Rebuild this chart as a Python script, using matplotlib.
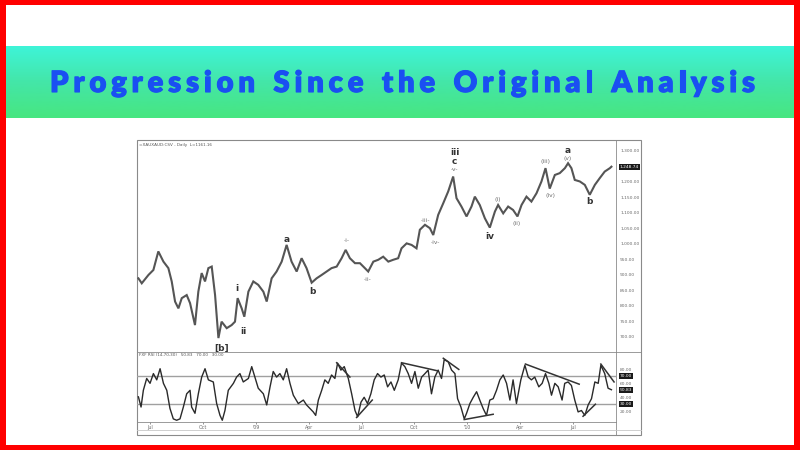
import matplotlib
matplotlib.use('Agg')
import matplotlib.pyplot as plt
import matplotlib.transforms as mtransforms
import matplotlib.patheffects as pe
from matplotlib.patches import Rectangle
from matplotlib.colors import LinearSegmentedColormap
from matplotlib.font_manager import FontProperties
import numpy as np

# price (XAU/AUD daily), time in months since Jul 2008
price_t = [-0.66, -0.47, -0.09, 0.19, 0.47, 0.76, 1.04, 1.23, 1.42, 1.61,
           1.80, 2.08, 2.27, 2.55, 2.74, 2.93, 3.12, 3.31, 3.50, 3.69,
           3.88, 4.06, 4.35, 4.63, 4.82, 4.97, 5.20, 5.35, 5.58, 5.86,
           6.14, 6.43, 6.62, 6.90, 7.18, 7.47, 7.75, 8.03, 8.32, 8.60,
           8.88, 9.17, 9.45, 9.74, 10.02, 10.30, 10.59, 10.87, 11.10, 11.34,
           11.63, 11.91, 12.19, 12.38, 12.67, 12.95, 13.23, 13.52, 13.80, 14.08,
           14.27, 14.56, 14.84, 15.12, 15.31, 15.60, 15.88, 16.07, 16.35, 16.64,
           16.92, 17.20, 17.39, 17.67, 17.96, 18.24, 18.43, 18.71, 19.00, 19.28,
           19.57, 19.75, 20.04, 20.32, 20.60, 20.85, 21.08, 21.36, 21.64, 21.93,
           22.21, 22.44, 22.68, 22.97, 23.25, 23.54, 23.72, 23.91, 24.10, 24.39,
           24.67, 24.95, 25.24, 25.52, 25.80, 26.09, 26.18]
price_v = [888, 872, 899, 915, 975, 942, 921, 878, 813, 791,
           824, 834, 808, 737, 845, 905, 878, 921, 926, 834,
           695, 748, 727, 737, 748, 824, 791, 764, 845, 878,
           867, 845, 813, 888, 910, 942, 996, 942, 910, 953,
           921, 874, 888, 899, 910, 921, 926, 953, 980, 953,
           937, 937, 921, 910, 942, 948, 958, 942, 948, 953,
           985, 1001, 996, 985, 1045, 1061, 1050, 1028, 1093, 1131,
           1169, 1217, 1147, 1120, 1088, 1120, 1152, 1125, 1082, 1052,
           1104, 1125, 1098, 1120, 1109, 1088, 1125, 1152, 1136, 1163,
           1201, 1244, 1178, 1222, 1228, 1244, 1260, 1244, 1206, 1201,
           1190, 1158, 1190, 1212, 1233, 1244, 1248.74]

rsi_t = [-0.66, -0.51, -0.38, -0.19, 0.00, 0.19, 0.38, 0.57, 0.76, 0.95,
         1.13, 1.32, 1.51, 1.70, 1.89, 2.08, 2.27, 2.36, 2.55, 2.74,
         2.93, 3.12, 3.31, 3.59, 3.78, 3.97, 4.10, 4.25, 4.44, 4.73,
         4.91, 5.10, 5.29, 5.58, 5.77, 5.95, 6.14, 6.43, 6.62, 6.81,
         6.99, 7.18, 7.37, 7.56, 7.75, 7.94, 8.13, 8.41, 8.70, 8.88,
         9.07, 9.26, 9.40, 9.55, 9.74, 9.92, 10.11, 10.30, 10.49, 10.64,
         10.83, 11.02, 11.25, 11.44, 11.63, 11.78, 11.97, 12.15, 12.34, 12.53,
         12.72, 12.91, 13.10, 13.29, 13.48, 13.67, 13.86, 14.08, 14.27, 14.46,
         14.65, 14.84, 15.03, 15.22, 15.41, 15.60, 15.78, 15.97, 16.16, 16.35,
         16.54, 16.69, 16.92, 17.11, 17.30, 17.45, 17.64, 17.83, 17.96, 18.15,
         18.34, 18.53, 18.71, 18.90, 19.09, 19.28, 19.47, 19.66, 19.85, 20.04,
         20.23, 20.42, 20.60, 20.79, 21.04, 21.27, 21.46, 21.64, 21.83, 22.06,
         22.25, 22.44, 22.63, 22.78, 22.97, 23.16, 23.38, 23.53, 23.72, 23.91,
         24.10, 24.29, 24.48, 24.67, 24.86, 25.05, 25.24, 25.43, 25.58, 25.80,
         25.99, 26.18]
rsi_v = [40.6, 26, 50, 67, 60, 74, 65, 81, 60, 50,
         24, 9, 7, 9, 26, 45, 50, 26, 17, 45,
         69, 81, 65, 62, 31, 14, 7, 21, 50, 60,
         69, 74, 62, 67, 84, 69, 53, 45, 29, 55,
         77, 69, 74, 65, 81, 60, 43, 31, 36, 29,
         24, 19, 14, 36, 50, 65, 60, 72, 67, 89,
         79, 84, 67, 45, 21, 12, 33, 40, 31, 45,
         65, 74, 69, 72, 55, 62, 50, 65, 89, 84,
         74, 60, 77, 53, 69, 74, 79, 45, 69, 79,
         67, 94, 91, 79, 74, 38, 26, 9, 17, 31,
         40, 48, 36, 24, 14, 36, 38, 50, 65, 72,
         60, 36, 65, 31, 65, 86, 69, 65, 69, 55,
         60, 74, 60, 43, 60, 55, 36, 60, 62, 57,
         36, 19, 21, 14, 29, 38, 62, 60, 86, 74,
         53, 50.83]

# rsi trendlines: (t0, v0, t1, v1)
trendlines = [(10.59, 89.6, 11.34, 69), (11.72, 11, 12.61, 36),
              (14.27, 89.6, 16.31, 78), (16.64, 96, 17.52, 80),
              (17.83, 8, 19.47, 15.6), (21.30, 87.7, 24.35, 58.8),
              (24.57, 12.7, 25.27, 30), (25.58, 87.7, 26.33, 62)]

# elliott wave labels: text, t, price, big
wave_labels = [('[b]', 4.03, 662, True), ('i', 4.91, 856, True), ('ii', 5.29, 716, True),
               ('a', 7.75, 1012, True), ('b', 9.22, 847, True),
               ('-i-', 11.15, 1009, False), ('-ii-', 12.33, 883, False),
               ('-iii-', 15.65, 1074, False), ('-iv-', 16.22, 1005, False),
               ('iii', 17.3, 1294, True), ('c', 17.26, 1265, True), ('-v-', 17.26, 1239, False),
               ('iv', 19.28, 1023, True), ('(i)', 19.75, 1142, False), ('(ii)', 20.79, 1066, False),
               ('(iii)', 22.44, 1266, False), ('(iv)', 22.74, 1155, False),
               ('a', 23.69, 1302, True), ('(v)', 23.69, 1274, False), ('b', 24.95, 1136, True)]

month_ticks = [0, 3, 6, 9, 12, 15, 18, 21, 24]
month_labels = ['Jul', 'Oct', "'09", 'Apr', 'Jul', 'Oct', "'10", 'Apr', 'Jul']
price_ticks = list(range(700, 1301, 50))
rsi_ticks = [20, 40, 60, 80]
rsi_tags = [70.0, 50.83, 30.0]

title = 'Progression Since the Original Analysis'

W, H = 800, 450
fig = plt.figure(figsize=(8, 4.5), dpi=100)
fig.patch.set_facecolor('#ff0000')


def box(x0, y0, x1, y1):
    # pixel box (top-left origin) -> figure fraction rect
    return [x0 / W, 1 - y1 / H, (x1 - x0) / W, (y1 - y0) / H]


fig.add_artist(Rectangle((6 / W, 5 / H), 788 / W, 440 / H, transform=fig.transFigure,
                         facecolor='white', edgecolor='none', zorder=0))

# banner with gradient
bax = fig.add_axes(box(6, 46, 794, 118))
cmap = LinearSegmentedColormap.from_list('band', ['#3ef4d8', '#44e6a8', '#47e680'])
bax.imshow(np.linspace(0, 1, 100).reshape(-1, 1), aspect='auto', cmap=cmap, extent=[0, 1, 0, 1])
bax.axis('off')

# letter-spaced title
renderer = fig.canvas.get_renderer()
fs = 21
prop = FontProperties(family='Lato', weight='heavy', size=fs)
widths = []
for ch in title:
    if ch == ' ':
        widths.append(0.3 * fs * 100 / 72)
    else:
        widths.append(renderer.get_text_width_height_descent(ch, prop, ismath=False)[0])
target = 705
gap = (target - sum(widths)) / (len(title) - 1)
x = 50
for ch, w in zip(title, widths):
    if ch != ' ':
        fig.text(x / W, 1 - 92 / H, ch, fontproperties=prop, color='#1a4ff2',
                 ha='left', va='baseline',
                 path_effects=[pe.withStroke(linewidth=0.8, foreground='#1a4ff2')])
    x += w + gap

# screenshot frame
fig.add_artist(Rectangle((137 / W, 15 / H), 504 / W, 295 / H, transform=fig.transFigure,
                         facecolor='white', edgecolor='#8a8a8a', lw=0.8, zorder=1))

tick_col = '#6a6a6a'
xl = (-0.74, 26.44)

# price panel
ax = fig.add_axes(box(137, 140, 616, 352))
ax.set_zorder(2)
ax.plot(price_t, price_v, color='#555555', lw=1.5, solid_joinstyle='miter')
ax.set_xlim(*xl)
ax.set_ylim(650, 1335)
ax.yaxis.tick_right()
ax.set_yticks(price_ticks)
ax.set_yticklabels([f'{v:,.2f}' for v in price_ticks])
ax.tick_params(axis='y', labelsize=3.2, colors=tick_col, length=0, pad=3)
ax.set_xticks([])
for s in ['left', 'top', 'bottom']:
    ax.spines[s].set_visible(False)
ax.spines['right'].set_color('#8a8a8a')
ax.spines['right'].set_linewidth(0.6)
ax.patch.set_alpha(0)
trans = mtransforms.blended_transform_factory(ax.transAxes, ax.transData)
ax.text(1.008, price_v[-1], f'{price_v[-1]:,.2f}', transform=trans, fontsize=3.2,
        color='white', va='center', ha='left',
        bbox=dict(boxstyle='square,pad=0.2', fc='#1a1a1a', ec='none'))
for txt, t, v, big in wave_labels:
    if big:
        ax.text(t, v, txt, fontsize=6.5, fontweight='bold', color='#333333',
                ha='center', va='center')
    else:
        ax.text(t, v, txt, fontsize=4.3, color='#6e6e6e', ha='center', va='center')
fig.text(139 / W, 1 - 145 / H, '=XAUXAUD:CSV - Daily  L=1161.16', fontsize=3,
         color='#555555', va='center', zorder=5)

# rsi panel
rax = fig.add_axes(box(137, 352, 616, 422))
rax.set_zorder(2)
rax.axhline(70, color='#a0a0a0', lw=1.0)
rax.axhline(30, color='#a0a0a0', lw=1.0)
rax.plot(rsi_t, rsi_v, color='#2a2a2a', lw=1.0)
for t0, v0, t1, v1 in trendlines:
    rax.plot([t0, t1], [v0, v1], color='#333333', lw=1.1)
rax.set_xlim(*xl)
rax.set_ylim(4.5, 105)
rax.yaxis.tick_right()
rax.set_yticks(rsi_ticks)
rax.set_yticklabels([f'{v:.2f}' for v in rsi_ticks])
rax.tick_params(axis='y', labelsize=3.2, colors=tick_col, length=0, pad=3)
rax.set_xticks(month_ticks)
rax.set_xticklabels(month_labels)
rax.tick_params(axis='x', labelsize=3.4, colors=tick_col, length=1.5, pad=1, width=0.5)
rax.spines['left'].set_visible(False)
for s in ['top', 'bottom', 'right']:
    rax.spines[s].set_color('#8a8a8a')
    rax.spines[s].set_linewidth(0.6)
rax.patch.set_alpha(0)
rtrans = mtransforms.blended_transform_factory(rax.transAxes, rax.transData)
for v in rsi_tags:
    rax.text(1.008, v, f'{v:.2f}', transform=rtrans, fontsize=3.2, color='white',
             va='center', ha='left', bbox=dict(boxstyle='square,pad=0.2', fc='#1a1a1a', ec='none'))
fig.text(139 / W, 1 - 355 / H, 'FXF RSI (14,70,30)   50.83   70.00   30.00', fontsize=3,
         color='#555555', va='center', zorder=5)

# dividers in the axis column and scrollbar line
fig.add_artist(plt.Line2D([616 / W, 641 / W], [1 - 352 / H, 1 - 352 / H],
                          transform=fig.transFigure, color='#8a8a8a', lw=0.6, zorder=3))
fig.add_artist(plt.Line2D([616 / W, 616 / W], [1 - 435 / H, 1 - 422 / H],
                          transform=fig.transFigure, color='#8a8a8a', lw=0.6, zorder=3))
fig.add_artist(plt.Line2D([137 / W, 641 / W], [1 - 430 / H, 1 - 430 / H],
                          transform=fig.transFigure, color='#c8c8c8', lw=0.6, zorder=3))

fig.savefig('out.png', dpi=100, facecolor=fig.get_facecolor())
